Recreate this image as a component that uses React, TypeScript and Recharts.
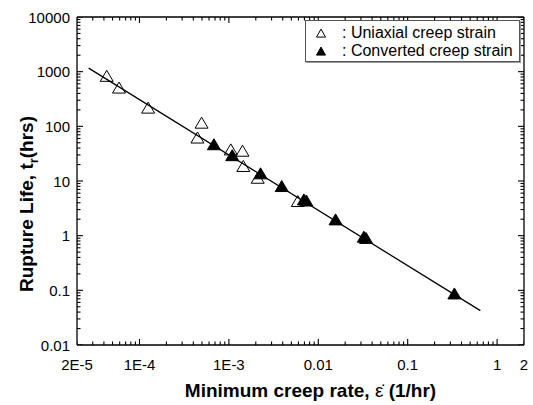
import { Legend, Scatter, ScatterChart, XAxis, YAxis } from "recharts";

// minimum creep rate (1/hr) vs rupture life (hrs)
const uniaxialRate = [4.3e-5, 5.9e-5, 1.25e-4, 4.45e-4, 4.95e-4, 1.05e-3, 1.42e-3, 1.45e-3, 2.1e-3, 5.9e-3];
const uniaxialLife = [820, 500, 215, 61, 114, 37, 35, 18.4, 11.2, 4.2];
const convertedRate = [6.8e-4, 1.09e-3, 2.26e-3, 3.9e-3, 6.9e-3, 7.35e-3, 0.0156, 0.0323, 0.0342, 0.333];
const convertedLife = [46, 29, 13.5, 7.9, 4.5, 4.3, 1.94, 0.935, 0.89, 0.0857];
const fitRate = [2.7e-5, 0.65];
const fitLife = [1160, 0.0425];

const xMajor = [2e-5, 1e-4, 1e-3, 0.01, 0.1, 1, 2];
const xMajorLabels = ["2E-5", "1E-4", "1E-3", "0.01", "0.1", "1", "2"];
const yMajor = [0.01, 0.1, 1, 10, 100, 1000, 10000];
const yMajorLabels = ["0.01", "0.1", "1", "10", "100", "1000", "10000"];

const FONT = "'Liberation Sans', Arial, sans-serif";
const X_MIN = 2e-5;
const X_MAX = 2;
const Y_MIN = 0.01;
const Y_MAX = 10000;

const toPoints = (xs: number[], ys: number[]) => xs.map((x, i) => ({ x, y: ys[i] }));
const uniaxial = toPoints(uniaxialRate, uniaxialLife);
const converted = toPoints(convertedRate, convertedLife);
const fit = toPoints(fitRate, fitLife);

function majorIndex(v: number, majors: number[]) {
  return majors.findIndex((m) => Math.abs(v / m - 1) < 1e-6);
}

// log axis ticks: labelled majors plus 2..9 minors per decade
function withMinors(majors: number[]) {
  const lo = majors[0];
  const hi = majors[majors.length - 1];
  const out = [...majors];
  for (let k = Math.floor(Math.log10(lo)); k <= Math.ceil(Math.log10(hi)); k++) {
    for (let m = 2; m <= 9; m++) {
      const v = m * Math.pow(10, k);
      if (v > lo * 1.0001 && v < hi * 0.9999 && majorIndex(v, majors) < 0) out.push(v);
    }
  }
  return out.sort((a, b) => a - b);
}

const xTicks = withMinors(xMajor);
const yTicks = withMinors(yMajor);

const isDecade = (v: number) => Math.abs(Math.log10(v) - Math.round(Math.log10(v))) < 1e-6;

// inward tick marks on all four sides, placed through the chart scales
const tickMarks = [
  ...xTicks.map((v) => ({ x: v, y: Y_MIN, dir: "up", major: isDecade(v) })),
  ...xTicks.map((v) => ({ x: v, y: Y_MAX, dir: "down", major: isDecade(v) })),
  ...yTicks.map((v) => ({ x: X_MIN, y: v, dir: "right", major: isDecade(v) })),
  ...yTicks.map((v) => ({ x: X_MAX, y: v, dir: "left", major: isDecade(v) })),
];

const TickMark = (props: any) => {
  const cx = Number(props.cx);
  const cy = Number(props.cy);
  const p = props.payload || props;
  const len = p.major ? 6 : 3.5;
  let d = "";
  if (p.dir === "up") d = `M${cx},${cy} L${cx},${cy - len}`;
  else if (p.dir === "down") d = `M${cx},${cy} L${cx},${cy + len}`;
  else if (p.dir === "right") d = `M${cx},${cy} L${cx + len},${cy}`;
  else d = `M${cx},${cy} L${cx - len},${cy}`;
  return <path d={d} stroke="#000" strokeWidth={1.1} fill="none" />;
};

const BottomLabel = (props: any) => {
  const i = majorIndex(props.payload.value, xMajor);
  if (i < 0) return <g />;
  return (
    <text x={props.x} y={Number(props.y) + 25} textAnchor="middle" fontSize={15} fontFamily={FONT} fill="#000">
      {xMajorLabels[i]}
    </text>
  );
};

const LeftLabel = (props: any) => {
  const i = majorIndex(props.payload.value, yMajor);
  if (i < 0) return <g />;
  return (
    <text x={Number(props.x) - 7} y={Number(props.y) + 5.5} textAnchor="end" fontSize={15} fontFamily={FONT} fill="#000">
      {yMajorLabels[i]}
    </text>
  );
};

const tri = (cx: number, cy: number, w: number, h: number) =>
  `M${cx},${cy - h * 0.55} L${cx + w / 2},${cy + h * 0.45} L${cx - w / 2},${cy + h * 0.45} Z`;

const OpenTriangle = (props: any) => (
  <path d={tri(props.cx, props.cy, 13, 11)} fill="none" stroke="#000" strokeWidth={1} />
);
const FilledTriangle = (props: any) => (
  <path d={tri(props.cx, props.cy, 13, 11)} fill="#000" stroke="#000" strokeWidth={1} />
);
const NoDot = () => <g />;

const LegendBox = () => (
  <div
    style={{
      width: 215,
      height: 42,
      boxSizing: "border-box",
      border: "1px solid #555",
      boxShadow: "1px 1px 0 #999",
      background: "#fff",
      paddingTop: 3,
      fontFamily: FONT,
      fontSize: 16,
      color: "#000",
    }}
  >
    {[
      { label: ": Uniaxial creep strain", fill: "none" },
      { label: ": Converted creep strain", fill: "#000" },
    ].map((r) => (
      <div key={r.label} style={{ display: "flex", alignItems: "center", height: 18, lineHeight: "18px" }}>
        <svg width={36} height={18} style={{ display: "block" }}>
          <path d={tri(15, 9.5, 9, 8)} fill={r.fill} stroke="#000" strokeWidth={1} />
        </svg>
        <span style={{ whiteSpace: "nowrap" }}>{r.label}</span>
      </div>
    ))}
  </div>
);

const XTitle = (props: any) => {
  const vb = props.viewBox;
  return (
    <text
      x={vb.x + vb.width / 2 + 10}
      y={vb.y + 52}
      textAnchor="middle"
      fontSize={19}
      fontWeight="bold"
      fontFamily={FONT}
      fill="#000"
    >
      Minimum creep rate, <tspan fontWeight="normal">ε̇</tspan> (1/hr)
    </text>
  );
};

const YTitle = (props: any) => {
  const vb = props.viewBox;
  const x = 33;
  const y = vb.y + vb.height / 2 + 23;
  return (
    <text
      x={x}
      y={y}
      transform={`rotate(-90, ${x}, ${y})`}
      textAnchor="middle"
      fontSize={19}
      fontWeight="bold"
      fontFamily={FONT}
      fill="#000"
    >
      Rupture Life, t
      <tspan fontSize={13} dy={5}>
        r
      </tspan>
      <tspan dy={-5}>(hrs)</tspan>
    </text>
  );
};

const axisLine = { stroke: "#000", strokeWidth: 1.3 };

export default function App() {
  return (
    <div style={{ position: "absolute", left: 0, top: 0, width: 533, height: 405, background: "#fff" }}>
      <ScatterChart width={533} height={405} margin={{ top: 16, right: 0, bottom: 0, left: 0 }}>
        <XAxis
          dataKey="x"
          type="number"
          scale="log"
          domain={[X_MIN, X_MAX]}
          ticks={xTicks}
          interval={0}
          allowDataOverflow
          height={60}
          tickSize={0}
          tickMargin={0}
          tickLine={false}
          tick={BottomLabel}
          axisLine={axisLine}
          label={{ content: XTitle }}
        />
        <XAxis
          xAxisId="top"
          orientation="top"
          type="number"
          scale="log"
          domain={[X_MIN, X_MAX]}
          allowDataOverflow
          height={1}
          tick={false}
          tickLine={false}
          axisLine={axisLine}
        />
        <YAxis
          dataKey="y"
          type="number"
          scale="log"
          domain={[Y_MIN, Y_MAX]}
          ticks={yTicks}
          interval={0}
          allowDataOverflow
          width={77}
          tickSize={0}
          tickMargin={0}
          tickLine={false}
          tick={LeftLabel}
          axisLine={axisLine}
          label={{ content: YTitle }}
        />
        <YAxis
          yAxisId="right"
          orientation="right"
          type="number"
          scale="log"
          domain={[Y_MIN, Y_MAX]}
          allowDataOverflow
          width={9}
          tick={false}
          tickLine={false}
          axisLine={axisLine}
        />
        <Legend
          layout="vertical"
          align="center"
          verticalAlign="middle"
          content={LegendBox}
          wrapperStyle={{ left: 305, top: 20, width: 215 }}
        />
        <Scatter data={tickMarks} shape={TickMark} isAnimationActive={false} legendType="none" />
        <Scatter
          data={fit}
          line={{ stroke: "#000", strokeWidth: 1.3 }}
          shape={NoDot}
          isAnimationActive={false}
          legendType="none"
        />
        <Scatter data={uniaxial} shape={OpenTriangle} isAnimationActive={false} />
        <Scatter data={converted} shape={FilledTriangle} isAnimationActive={false} />
      </ScatterChart>
    </div>
  );
}
